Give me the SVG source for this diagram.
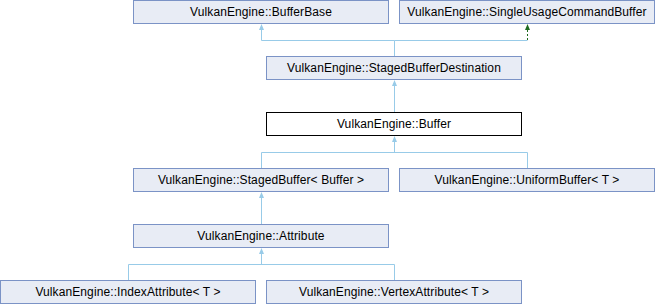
<svg xmlns="http://www.w3.org/2000/svg" width="655" height="304" viewBox="0 0 655 304">
  <style>
    .box { fill: #e8ecf5; stroke: #7b93c6; stroke-width: 1; }
    .cur { fill: #ffffff; stroke: #000000; stroke-width: 1; }
    .lbl { font-family: "Liberation Sans", Arial, sans-serif; font-size: 12px; letter-spacing: 0.1px; fill: #000000; text-anchor: middle; }
    .edge { fill: none; stroke: #98cbe8; stroke-width: 1; }
    .head { fill: #98cbe8; stroke: none; }
    .dash { fill: none; stroke: #1f6b1f; stroke-width: 1; stroke-dasharray: 2 2; }
    .ghead { fill: #1f6b1f; stroke: none; }
  </style>

  <g id="connectors">
    <!-- StagedBufferDestination -> BufferBase / SingleUsageCommandBuffer -->
    <polyline class="edge" points="394.5,56 394.5,40.5 261.5,40.5 261.5,29"/>
    <polygon class="head" points="261.5,24 259,30 264,30"/>
    <polyline class="edge" points="394.5,40.5 527.5,40.5"/>
    <line class="dash" x1="527.5" y1="40" x2="527.5" y2="29"/>
    <polygon class="ghead" points="527.5,24 525,30 530,30"/>

    <!-- Buffer -> StagedBufferDestination -->
    <line class="edge" x1="394.5" y1="112" x2="394.5" y2="85"/>
    <polygon class="head" points="394.5,80 392,86 397,86"/>

    <!-- StagedBuffer / UniformBuffer -> Buffer -->
    <polyline class="edge" points="261.5,168 261.5,152.5 527.5,152.5 527.5,168"/>
    <line class="edge" x1="394.5" y1="152.5" x2="394.5" y2="141"/>
    <polygon class="head" points="394.5,136 392,142 397,142"/>

    <!-- Attribute -> StagedBuffer -->
    <line class="edge" x1="261.5" y1="224" x2="261.5" y2="197"/>
    <polygon class="head" points="261.5,192 259,198 264,198"/>

    <!-- IndexAttribute / VertexAttribute -> Attribute -->
    <polyline class="edge" points="128.5,280 128.5,264.5 394.5,264.5 394.5,280"/>
    <line class="edge" x1="261.5" y1="264.5" x2="261.5" y2="253"/>
    <polygon class="head" points="261.5,248 259,254 264,254"/>
  </g>

  <g id="BufferBase">
    <rect class="box" x="133.5" y="0.5" width="255" height="23"/>
    <text class="lbl" x="261" y="15.5">VulkanEngine::BufferBase</text>
  </g>
  <g id="SingleUsageCommandBuffer">
    <rect class="box" x="399.5" y="0.5" width="255" height="23"/>
    <text class="lbl" x="527" y="15.5">VulkanEngine::SingleUsageCommandBuffer</text>
  </g>
  <g id="StagedBufferDestination">
    <rect class="box" x="266.5" y="56.5" width="255" height="23"/>
    <text class="lbl" x="394" y="71.5">VulkanEngine::StagedBufferDestination</text>
  </g>
  <g id="Buffer">
    <rect class="cur" x="266.5" y="112.5" width="255" height="23"/>
    <text class="lbl" x="394" y="127.5">VulkanEngine::Buffer</text>
  </g>
  <g id="StagedBuffer">
    <rect class="box" x="133.5" y="168.5" width="255" height="23"/>
    <text class="lbl" x="261" y="183.5">VulkanEngine::StagedBuffer&lt; Buffer &gt;</text>
  </g>
  <g id="UniformBuffer">
    <rect class="box" x="399.5" y="168.5" width="255" height="23"/>
    <text class="lbl" x="527" y="183.5">VulkanEngine::UniformBuffer&lt; T &gt;</text>
  </g>
  <g id="Attribute">
    <rect class="box" x="133.5" y="224.5" width="255" height="23"/>
    <text class="lbl" x="261" y="239.5">VulkanEngine::Attribute</text>
  </g>
  <g id="IndexAttribute">
    <rect class="box" x="0.5" y="280.5" width="255" height="23"/>
    <text class="lbl" x="128" y="295.5">VulkanEngine::IndexAttribute&lt; T &gt;</text>
  </g>
  <g id="VertexAttribute">
    <rect class="box" x="266.5" y="280.5" width="255" height="23"/>
    <text class="lbl" x="394" y="295.5">VulkanEngine::VertexAttribute&lt; T &gt;</text>
  </g>
</svg>
